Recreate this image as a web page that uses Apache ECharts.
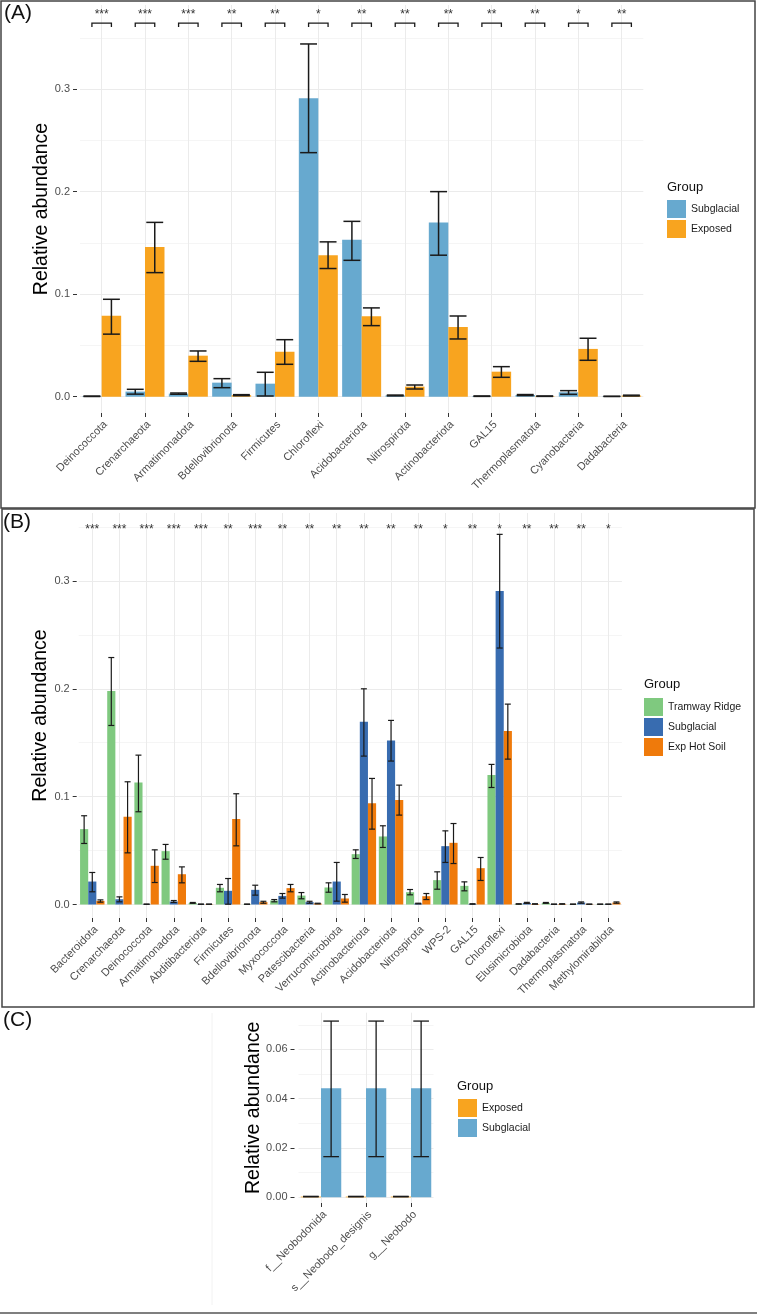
<!DOCTYPE html>
<html>
<head>
<meta charset="utf-8">
<script src="https://cdn.jsdelivr.net/npm/echarts@6/dist/echarts.min.js"></script>
<style>
  html, body { margin: 0; padding: 0; background: #fff; }
  #main { width: 757px; height: 1315px; }
</style>
</head>
<body>
<div id="main"></div>
<script>
// ---- panel A : Subglacial vs Exposed (phyla) ----
var catsA = ['Deinococcota', 'Crenarchaeota', 'Armatimonadota', 'Bdellovibrionota', 'Firmicutes', 'Chloroflexi',
    'Acidobacteriota', 'Nitrospirota', 'Actinobacteriota', 'GAL15', 'Thermoplasmatota', 'Cyanobacteria', 'Dadabacteria'];
var subA    = [0.0004, 0.0050, 0.0030, 0.0137, 0.0127, 0.291, 0.153, 0.0012, 0.170, 0.0005, 0.0016, 0.0043, 0.0003];
var subALo  = [0.0002, 0.0025, 0.0024, 0.0088, 0.0007, 0.238, 0.133, 0.0008, 0.138, 0.0003, 0.0011, 0.0023, 0.0002];
var subAHi  = [0.0006, 0.0072, 0.0036, 0.0176, 0.0238, 0.344, 0.171, 0.0016, 0.200, 0.0007, 0.0021, 0.0059, 0.0004];
var expA    = [0.079, 0.146, 0.040, 0.0015, 0.0439, 0.138, 0.0785, 0.0098, 0.068, 0.0244, 0.0005, 0.0466, 0.0011];
var expALo  = [0.061, 0.121, 0.0345, 0.0010, 0.0316, 0.125, 0.0693, 0.0075, 0.0563, 0.0189, 0.0003, 0.0355, 0.0007];
var expAHi  = [0.095, 0.170, 0.0446, 0.0020, 0.0556, 0.151, 0.0866, 0.0114, 0.0787, 0.0293, 0.0007, 0.0570, 0.0015];
var sigA    = ['***', '***', '***', '**', '**', '*', '**', '**', '**', '**', '**', '*', '**'];

// ---- panel B : Tramway Ridge / Subglacial / Exp Hot Soil ----
var catsB = ['Bacteroidota', 'Crenarchaeota', 'Deinococcota', 'Armatimonadota', 'Abditibacteriota', 'Firmicutes',
    'Bdellovibrionota', 'Myxococcota', 'Patescibacteria', 'Verrucomicrobiota', 'Actinobacteriota', 'Acidobacteriota',
    'Nitrospirota', 'WPS-2', 'GAL15', 'Chloroflexi', 'Elusimicrobiota', 'Dadabacteria', 'Thermoplasmatota', 'Methylomirabilota'];
var tramB   = [0.0699, 0.198, 0.1132, 0.0495, 0.0015, 0.0155, 0.0003, 0.0037, 0.0083, 0.0158, 0.0467, 0.0631, 0.0114, 0.0226, 0.0173, 0.120, 0.0005, 0.0015, 0.0003, 0.0003];
var tramBLo = [0.0566, 0.166, 0.086, 0.042, 0.0011, 0.0118, 0.0002, 0.0025, 0.0053, 0.0114, 0.0427, 0.0529, 0.0090, 0.0142, 0.0127, 0.1085, 0.0003, 0.0011, 0.0002, 0.0002];
var tramBHi = [0.0823, 0.229, 0.1385, 0.0557, 0.0019, 0.0186, 0.0004, 0.0046, 0.0111, 0.0201, 0.0507, 0.0730, 0.0139, 0.0303, 0.0210, 0.1299, 0.0007, 0.0019, 0.0004, 0.0004];
var subB    = [0.0213, 0.0049, 0.0003, 0.0028, 0.0003, 0.0127, 0.0136, 0.0080, 0.0022, 0.0213, 0.1694, 0.152, 0.0009, 0.0541, 0.0005, 0.2906, 0.0015, 0.0003, 0.0018, 0.0003];
var subBLo  = [0.0118, 0.0025, 0.0002, 0.0019, 0.0002, 0.0003, 0.0087, 0.0059, 0.0012, 0.0031, 0.1376, 0.133, 0.0006, 0.0390, 0.0003, 0.2378, 0.0010, 0.0002, 0.0012, 0.0002];
var subBHi  = [0.0297, 0.0071, 0.0004, 0.0037, 0.0004, 0.0241, 0.0179, 0.0102, 0.0030, 0.0390, 0.200, 0.1707, 0.0012, 0.0683, 0.0007, 0.3432, 0.0020, 0.0004, 0.0024, 0.0004];
var hotB    = [0.0034, 0.0813, 0.0359, 0.0281, 0.0003, 0.0792, 0.0022, 0.0152, 0.0009, 0.0056, 0.094, 0.0968, 0.0077, 0.0572, 0.0337, 0.1608, 0.0005, 0.0005, 0.0003, 0.0018];
var hotBLo  = [0.0022, 0.0479, 0.0204, 0.0201, 0.0002, 0.0544, 0.0012, 0.0118, 0.0006, 0.0022, 0.0699, 0.0829, 0.0046, 0.0380, 0.0223, 0.1348, 0.0003, 0.0003, 0.0002, 0.0012];
var hotBHi  = [0.0043, 0.1138, 0.0507, 0.0349, 0.0004, 0.1027, 0.0030, 0.0186, 0.0012, 0.0093, 0.1169, 0.1107, 0.0102, 0.0751, 0.0436, 0.1858, 0.0007, 0.0007, 0.0004, 0.0024];
var sigB    = ['***', '***', '***', '***', '***', '**', '***', '**', '**', '**', '**', '**', '**', '*', '**', '*', '**', '**', '**', '*'];

// ---- panel C : Neobodo ----
var catsC  = ['f__Neobodonida', 's__Neobodo_designis', 'g__Neobodo'];
var expC   = [0.0003, 0.0003, 0.0003];
var expCLo = [0.0002, 0.0002, 0.0002];
var expCHi = [0.0004, 0.0004, 0.0004];
var subC   = [0.0443, 0.0443, 0.0443];
var subCLo = [0.0165, 0.0165, 0.0165];
var subCHi = [0.0715, 0.0715, 0.0715];

var ticksA = [0, 0.1, 0.2, 0.3], minorA = [0.05, 0.15, 0.25, 0.35];
var ticksB = [0, 0.1, 0.2, 0.3], minorB = [0.05, 0.15, 0.25, 0.35];
var ticksC = [0, 0.02, 0.04, 0.06], minorC = [0.01, 0.03, 0.05, 0.07];

var FONT = '"Liberation Sans", Arial, Helvetica, sans-serif';
var BLUE_A = '#67A9CF', ORANGE_A = '#F8A41F';
var GREEN_B = '#7FC97F', BLUE_B = '#386CB0', ORANGE_B = '#EF7A0B';

function idx(n) { var r = []; for (var i = 0; i < n; i++) r.push(i); return r; }

function errData(cats, lo, hi) {
    return cats.map(function (c, i) { return [c, lo[i], hi[i]]; });
}

function errRender(offset, half, lw) {
    return function (params, api) {
        var band = api.size([1, 0])[0];
        var x = api.coord([api.value(0), 0])[0] + offset * band;
        var yLo = api.coord([api.value(0), api.value(1)])[1];
        var yHi = api.coord([api.value(0), api.value(2)])[1];
        var h = half * band;
        var st = { stroke: '#1a1a1a', lineWidth: lw };
        return {
            type: 'group',
            children: [
                { type: 'line', shape: { x1: x, y1: yHi, x2: x, y2: yLo }, style: st },
                { type: 'line', shape: { x1: x - h, y1: yHi, x2: x + h, y2: yHi }, style: st },
                { type: 'line', shape: { x1: x - h, y1: yLo, x2: x + h, y2: yLo }, style: st }
            ]
        };
    };
}

function catAxis(gridIndex, cats) {
    return {
        type: 'category', gridIndex: gridIndex, data: cats,
        axisLine: { show: false, onZero: false },
        axisTick: { show: true, alignWithLabel: true, length: 4, lineStyle: { color: '#333' } },
        axisLabel: { rotate: 45, interval: 0, fontSize: 11, color: '#4D4D4D', fontFamily: FONT, margin: 6,
            align: 'right', verticalAlign: 'top' },
        splitLine: { show: false }
    };
}
function gridXAxis(gridIndex, n) {
    return {
        type: 'value', gridIndex: gridIndex, min: -0.5, max: n - 0.5,
        axisLine: { show: false, onZero: false }, axisLabel: { show: false },
        axisTick: { show: false, customValues: idx(n) },
        splitLine: { show: true, lineStyle: { color: '#EBEBEB', width: 1 } }
    };
}
function mainYAxis(gridIndex, min, max, ticks, dec, offset, gap) {
    return {
        type: 'value', gridIndex: gridIndex, min: min, max: max, offset: offset, position: 'left',
        name: 'Relative abundance', nameLocation: 'middle', nameGap: gap, nameMoveOverlap: false,
        nameTextStyle: { fontSize: 19.5, color: '#000', fontFamily: FONT },
        axisLine: { show: false, onZero: false },
        axisTick: { show: true, length: 4, customValues: ticks, lineStyle: { color: '#333' } },
        axisLabel: {
            customValues: ticks, fontSize: 11, color: '#4D4D4D', fontFamily: FONT, margin: 7,
            formatter: function (v) { return v.toFixed(dec); }
        },
        splitLine: { show: true, lineStyle: { color: '#EBEBEB', width: 1 } }
    };
}
function minorYAxis(gridIndex, min, max, ticks) {
    return {
        type: 'value', gridIndex: gridIndex, min: min, max: max, position: 'left',
        axisLine: { show: false, onZero: false }, axisLabel: { show: false },
        axisTick: { show: false, customValues: ticks },
        splitLine: { show: true, lineStyle: { color: '#EFEFEF', width: 0.6 } }
    };
}
function legendBox(names, left, top) {
    return {
        data: names, left: left, top: top, orient: 'vertical', icon: 'rect', padding: 0,
        itemWidth: 19, itemHeight: 18, itemGap: 2, selectedMode: false,
        formatter: function (n) { return n.split('|')[1]; },
        textStyle: { fontSize: 10.5, color: '#1a1a1a', fontFamily: FONT }
    };
}
function barSeries(name, color, xi, yi, width, data) {
    return {
        name: name, type: 'bar', xAxisIndex: xi, yAxisIndex: yi,
        barWidth: width, barGap: '0%', itemStyle: { color: color }, data: data, z: 2
    };
}
function errSeries(xi, yi, offset, half, lw, data) {
    return {
        type: 'custom', xAxisIndex: xi, yAxisIndex: yi, renderItem: errRender(offset, half, lw),
        encode: { x: 0, y: [1, 2] }, data: data, z: 5, silent: true
    };
}
function text(str, left, top, size) {
    return {
        type: 'text', left: left, top: top,
        style: { text: str, fontSize: size, fill: '#111', fontFamily: FONT }
    };
}

var myChart = echarts.init(document.getElementById('main'), null, { renderer: 'canvas' });

var option = {
    animation: false,
    backgroundColor: '#fff',
    grid: [
        { left: 80, top: 5, width: 563.3, height: 408 },
        { left: 78.7, top: 513, width: 543.2, height: 405 },
        { left: 298.5, top: 1012.7, width: 135, height: 190.3 }
    ],
    xAxis: [
        catAxis(0, catsA), gridXAxis(0, catsA.length),
        catAxis(1, catsB), gridXAxis(1, catsB.length),
        catAxis(2, catsC), gridXAxis(2, catsC.length)
    ],
    yAxis: [
        mainYAxis(0, -0.0159, 0.382, ticksA, 1, 3, 25), minorYAxis(0, -0.0159, 0.382, minorA),
        mainYAxis(1, -0.0125, 0.363, ticksB, 1, 2, 26), minorYAxis(1, -0.0125, 0.363, minorB),
        mainYAxis(2, -0.0023, 0.0749, ticksC, 2, 4, 31), minorYAxis(2, -0.0023, 0.0749, minorC)
    ],
    legend: [
        legendBox(['A|Subglacial', 'A|Exposed'], 667, 200),
        legendBox(['B|Tramway Ridge', 'B|Subglacial', 'B|Exp Hot Soil'], 644, 698),
        legendBox(['C|Exposed', 'C|Subglacial'], 458, 1099)
    ],
    graphic: [
        { type: 'rect', shape: { x: 1, y: 1, width: 754, height: 507 }, style: { fill: 'none', stroke: '#444', lineWidth: 1.5 }, silent: true },
        { type: 'rect', shape: { x: 2, y: 509, width: 752, height: 498 }, style: { fill: 'none', stroke: '#444', lineWidth: 1.5 }, silent: true },
        { type: 'line', shape: { x1: 0, y1: 1313, x2: 757, y2: 1313 }, style: { stroke: '#555', lineWidth: 1.5 }, silent: true },
        { type: 'line', shape: { x1: 212, y1: 1013, x2: 212, y2: 1305 }, style: { stroke: '#F2F2F2', lineWidth: 1 }, silent: true },
        text('(A)', 4, 3, 21),
        text('(B)', 3, 512, 21),
        text('(C)', 3, 1010, 21),
        text('Group', 667, 181, 13),
        text('Group', 644, 678, 13),
        text('Group', 457, 1080, 13)
    ],
    series: [
        // panel A
        barSeries('A|Subglacial', BLUE_A, 0, 0, '45%', subA),
        barSeries('A|Exposed', ORANGE_A, 0, 0, '45%', expA),
        errSeries(0, 0, -0.225, 0.195, 1.5, errData(catsA, subALo, subAHi)),
        errSeries(0, 0, 0.225, 0.195, 1.5, errData(catsA, expALo, expAHi)),
        {
            type: 'custom', xAxisIndex: 0, yAxisIndex: 0, silent: true, z: 5,
            data: catsA.map(function (c) { return [c, 0.3644]; }),
            encode: { x: 0, y: 1 },
            renderItem: function (params, api) {
                var band = api.size([1, 0])[0];
                var p = api.coord([api.value(0), api.value(1)]);
                var h = 0.225 * band;
                return {
                    type: 'group',
                    children: [
                        { type: 'polyline', shape: { points: [[p[0] - h, p[1] + 4], [p[0] - h, p[1]], [p[0] + h, p[1]], [p[0] + h, p[1] + 4]] },
                          style: { stroke: '#1a1a1a', lineWidth: 1.3, fill: 'none' } },
                        { type: 'text', x: p[0], y: p[1] - 8.5,
                          style: { text: sigA[params.dataIndex], fontSize: 12, fill: '#333', fontFamily: FONT, align: 'center', verticalAlign: 'middle' } }
                    ]
                };
            }
        },
        // panel B
        barSeries('B|Tramway Ridge', GREEN_B, 2, 2, '30%', tramB),
        barSeries('B|Subglacial', BLUE_B, 2, 2, '30%', subB),
        barSeries('B|Exp Hot Soil', ORANGE_B, 2, 2, '30%', hotB),
        errSeries(2, 2, -0.3, 0.11, 1.2, errData(catsB, tramBLo, tramBHi)),
        errSeries(2, 2, 0, 0.11, 1.2, errData(catsB, subBLo, subBHi)),
        errSeries(2, 2, 0.3, 0.11, 1.2, errData(catsB, hotBLo, hotBHi)),
        {
            type: 'custom', xAxisIndex: 2, yAxisIndex: 2, silent: true, z: 5,
            data: catsB.map(function (c) { return [c, 0.349]; }),
            encode: { x: 0, y: 1 },
            renderItem: function (params, api) {
                var p = api.coord([api.value(0), api.value(1)]);
                return { type: 'text', x: p[0], y: p[1] + 2,
                    style: { text: sigB[params.dataIndex], fontSize: 12, fill: '#333', fontFamily: FONT, align: 'center', verticalAlign: 'middle' } };
            }
        },
        // panel C
        barSeries('C|Exposed', ORANGE_A, 4, 4, '45%', expC),
        barSeries('C|Subglacial', BLUE_A, 4, 4, '45%', subC),
        errSeries(4, 4, -0.225, 0.174, 1.3, errData(catsC, expCLo, expCHi)),
        errSeries(4, 4, 0.225, 0.174, 1.3, errData(catsC, subCLo, subCHi))
    ]
};

myChart.setOption(option);
</script>
</body>
</html>
